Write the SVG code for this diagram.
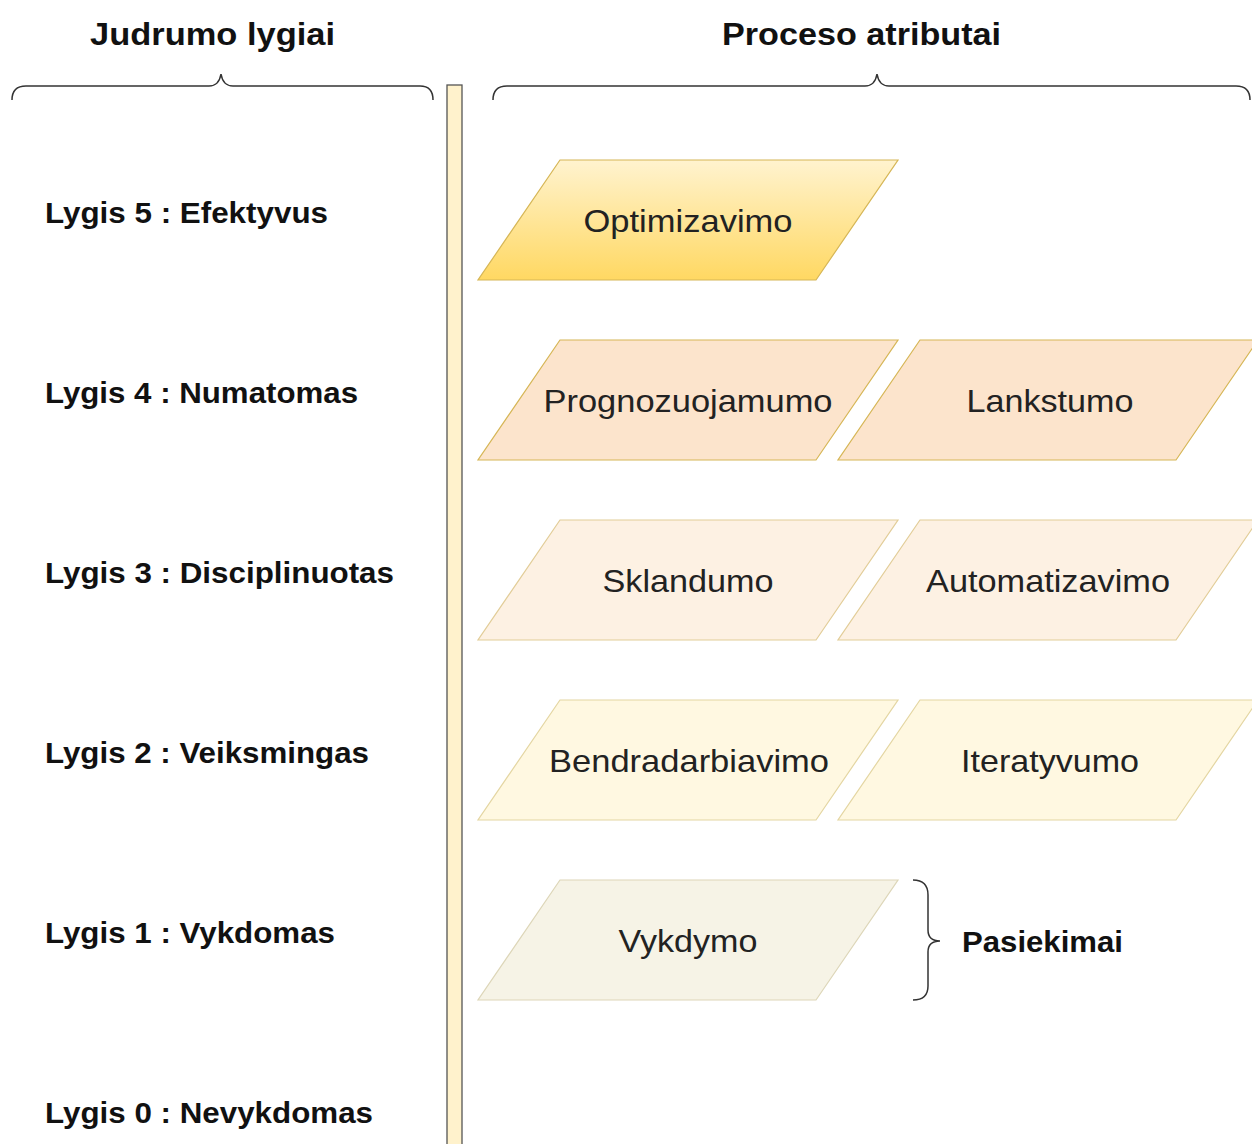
<svg xmlns="http://www.w3.org/2000/svg" width="1252" height="1144" viewBox="0 0 1252 1144">
  <defs>
    <linearGradient id="gradGold" x1="0" y1="0" x2="0" y2="1">
      <stop offset="0" stop-color="#fff3cf"/>
      <stop offset="1" stop-color="#ffd862"/>
    </linearGradient>
    <!-- parallelogram shape, 420 wide x 120 high, skew 82 -->
    <path id="para" d="M82,0 H420 L338,120 H0 Z"/>
  </defs>
  <style>
    .title { font-family: "Liberation Sans", Arial, sans-serif; font-weight: bold; font-size: 32px; fill: #111; }
    .level { font-family: "Liberation Sans", Arial, sans-serif; font-weight: bold; font-size: 29px; fill: #111; }
    .attr { font-family: "Liberation Sans", Arial, sans-serif; font-size: 32px; fill: #222; text-anchor: middle; }
    .brace { fill: none; stroke: #333; stroke-width: 1.5; }
    .r5 { fill: url(#gradGold); stroke: #d6b656; stroke-width: 1.2; }
    .r4 { fill: #fce4cc; stroke: #d6b656; stroke-width: 1.2; }
    .r3 { fill: #fdf1e3; stroke: #e2cd98; stroke-width: 1.2; }
    .r2 { fill: #fff8e1; stroke: #e4d6a2; stroke-width: 1.2; }
    .r1 { fill: #f6f3e6; stroke: #ddd6b8; stroke-width: 1.2; }
  </style>

  <rect width="1252" height="1144" fill="#ffffff"/>

  <!-- headings -->
  <g id="headings">
    <text class="title" x="90" y="45" textLength="245" lengthAdjust="spacingAndGlyphs">Judrumo lygiai</text>
    <text class="title" x="722" y="45" textLength="279" lengthAdjust="spacingAndGlyphs">Proceso atributai</text>
  </g>

  <!-- braces under headings and beside the achievement row -->
  <g id="braces">
    <path class="brace" d="M12,100 Q12,86 26,86 H209 Q219,86 221,74 Q223,86 233,86 H420 Q433,86 433,100"/>
    <path class="brace" d="M493,100 Q493,86 507,86 H865 Q875,86 877,74 Q879,86 889,86 H1236 Q1250,86 1250,100"/>
    <path class="brace" d="M913,880 Q928,880 928,895 V930 Q928,941 940,941 Q928,941 928,952 V986 Q928,1000 913,1000"/>
  </g>

  <!-- vertical divider -->
  <g id="divider">
    <rect x="447" y="85" width="15" height="1075" fill="#fff2cc" stroke="#555" stroke-width="1.3"/>
  </g>

  <!-- maturity levels -->
  <g id="levels">
    <text class="level" x="45" y="223" textLength="283" lengthAdjust="spacingAndGlyphs">Lygis 5 : Efektyvus</text>
    <text class="level" x="45" y="403" textLength="313" lengthAdjust="spacingAndGlyphs">Lygis 4 : Numatomas</text>
    <text class="level" x="45" y="583" textLength="349" lengthAdjust="spacingAndGlyphs">Lygis 3 : Disciplinuotas</text>
    <text class="level" x="45" y="763" textLength="324" lengthAdjust="spacingAndGlyphs">Lygis 2 : Veiksmingas</text>
    <text class="level" x="45" y="943" textLength="290" lengthAdjust="spacingAndGlyphs">Lygis 1 : Vykdomas</text>
    <text class="level" x="45" y="1123" textLength="328" lengthAdjust="spacingAndGlyphs">Lygis 0 : Nevykdomas</text>
  </g>

  <!-- process attributes -->
  <g id="optimizavimo">
    <use href="#para" class="r5" x="478" y="160"/>
    <text class="attr" x="688" y="232" textLength="209" lengthAdjust="spacingAndGlyphs">Optimizavimo</text>
  </g>
  <g id="prognozuojamumo">
    <use href="#para" class="r4" x="478" y="340"/>
    <text class="attr" x="688" y="412" textLength="289" lengthAdjust="spacingAndGlyphs">Prognozuojamumo</text>
  </g>
  <g id="lankstumo">
    <use href="#para" class="r4" x="838" y="340"/>
    <text class="attr" x="1050" y="412" textLength="167" lengthAdjust="spacingAndGlyphs">Lankstumo</text>
  </g>
  <g id="sklandumo">
    <use href="#para" class="r3" x="478" y="520"/>
    <text class="attr" x="688" y="592" textLength="171" lengthAdjust="spacingAndGlyphs">Sklandumo</text>
  </g>
  <g id="automatizavimo">
    <use href="#para" class="r3" x="838" y="520"/>
    <text class="attr" x="1048" y="592" textLength="244" lengthAdjust="spacingAndGlyphs">Automatizavimo</text>
  </g>
  <g id="bendradarbiavimo">
    <use href="#para" class="r2" x="478" y="700"/>
    <text class="attr" x="689" y="772" textLength="280" lengthAdjust="spacingAndGlyphs">Bendradarbiavimo</text>
  </g>
  <g id="iteratyvumo">
    <use href="#para" class="r2" x="838" y="700"/>
    <text class="attr" x="1050" y="772" textLength="178" lengthAdjust="spacingAndGlyphs">Iteratyvumo</text>
  </g>
  <g id="vykdymo">
    <use href="#para" class="r1" x="478" y="880"/>
    <text class="attr" x="688" y="952" textLength="139" lengthAdjust="spacingAndGlyphs">Vykdymo</text>
  </g>

  <g id="pasiekimai">
    <text class="level" x="962" y="952" textLength="161" lengthAdjust="spacingAndGlyphs">Pasiekimai</text>
  </g>
</svg>
